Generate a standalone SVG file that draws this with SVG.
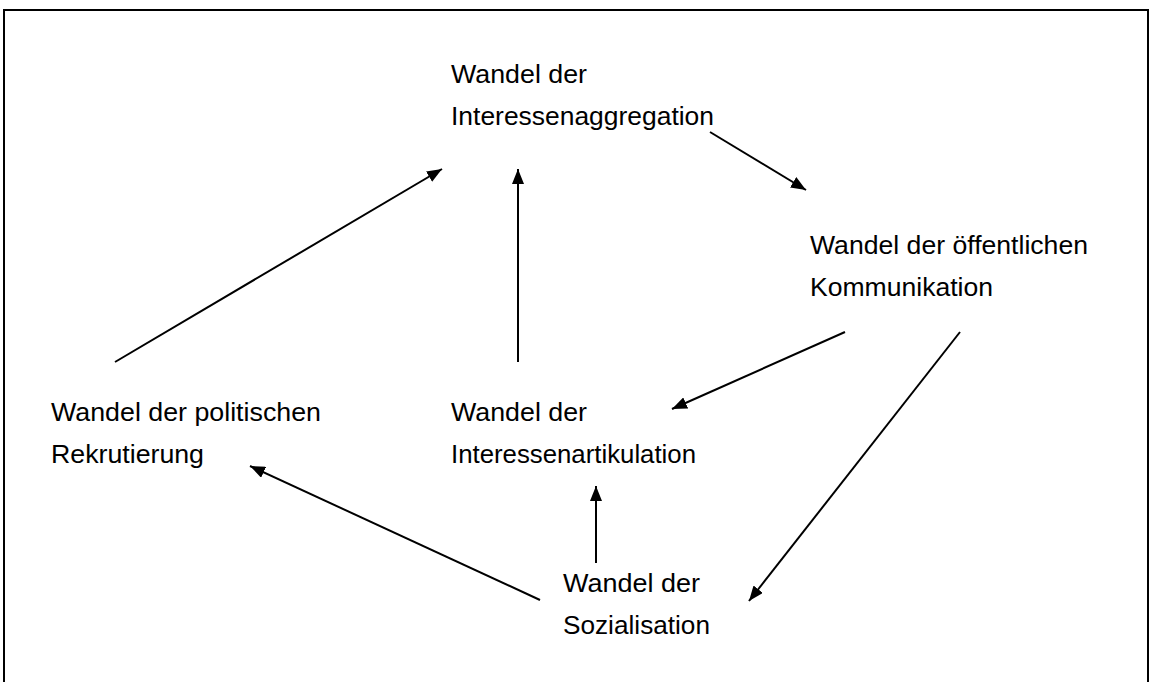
<svg xmlns="http://www.w3.org/2000/svg" width="1151" height="682" viewBox="0 0 1151 682">
<style>
  text { font-family: "Liberation Sans", Arial, sans-serif; font-size: 25px; fill: #000; }
  .conn line { stroke: #000; stroke-width: 2; fill: none; }
  .frame { stroke: #000; stroke-width: 2; fill: none; }
</style>
<defs>
  <marker id="ah" markerUnits="userSpaceOnUse" markerWidth="16" markerHeight="12" refX="15" refY="6" orient="auto">
    <path d="M0,0 L15,6 L0,12 Z" fill="#000"/>
  </marker>
</defs>
<rect width="1151" height="682" fill="#fff"/>
<path class="frame" d="M4,682 L4,10 L1148,10 L1148,682"/>
<g class="conn">
  <line x1="710" y1="132" x2="806" y2="190" marker-end="url(#ah)"/>
  <line x1="115" y1="362" x2="442" y2="169" marker-end="url(#ah)"/>
  <line x1="518" y1="362" x2="518" y2="169" marker-end="url(#ah)"/>
  <line x1="845" y1="332" x2="672" y2="409" marker-end="url(#ah)"/>
  <line x1="960" y1="332" x2="749" y2="601" marker-end="url(#ah)"/>
  <line x1="540" y1="600" x2="250" y2="466" marker-end="url(#ah)"/>
  <line x1="596" y1="563" x2="596" y2="486" marker-end="url(#ah)"/>
</g>
<g id="aggregation">
  <text x="451" y="83" textLength="136" lengthAdjust="spacingAndGlyphs">Wandel der</text>
  <text x="451" y="125" textLength="263" lengthAdjust="spacingAndGlyphs">Interessenaggregation</text>
</g>
<g id="kommunikation">
  <text x="810" y="254" textLength="278" lengthAdjust="spacingAndGlyphs">Wandel der öffentlichen</text>
  <text x="810" y="296" textLength="183" lengthAdjust="spacingAndGlyphs">Kommunikation</text>
</g>
<g id="rekrutierung">
  <text x="51" y="421" textLength="270" lengthAdjust="spacingAndGlyphs">Wandel der politischen</text>
  <text x="51" y="463" textLength="153" lengthAdjust="spacingAndGlyphs">Rekrutierung</text>
</g>
<g id="artikulation">
  <text x="451" y="421" textLength="136" lengthAdjust="spacingAndGlyphs">Wandel der</text>
  <text x="451" y="463" textLength="245" lengthAdjust="spacingAndGlyphs">Interessenartikulation</text>
</g>
<g id="sozialisation">
  <text x="563" y="592" textLength="137" lengthAdjust="spacingAndGlyphs">Wandel der</text>
  <text x="563" y="634" textLength="147" lengthAdjust="spacingAndGlyphs">Sozialisation</text>
</g>
</svg>
